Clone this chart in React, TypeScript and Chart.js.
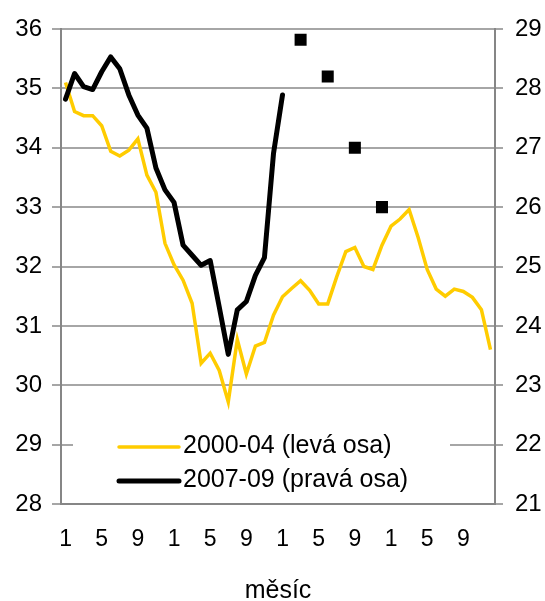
import React, { useEffect, useRef } from "react";
import { Chart, registerables } from "chart.js";

Chart.register(...registerables);

const months: string[] = [
  "1","2","3","4","5","6","7","8","9","10","11","12",
  "1","2","3","4","5","6","7","8","9","10","11","12",
  "1","2","3","4","5","6","7","8","9","10","11","12",
  "1","2","3","4","5","6","7","8","9","10","11","12",
];
const shownMonths: string[] = ["1", "5", "9"];

const series2000: number[] = [
  35.10, 34.61, 34.54, 34.54, 34.37, 33.94, 33.86, 33.96, 34.15, 33.54, 33.25, 32.39,
  32.03, 31.77, 31.38, 30.37, 30.54, 30.25, 29.72, 30.77, 30.19, 30.66, 30.72, 31.18,
  31.49, 31.63, 31.76, 31.60, 31.37, 31.37, 31.83, 32.25, 32.32, 32.00, 31.95, 32.36,
  32.68, 32.80, 32.96, 32.49, 31.95, 31.62, 31.50, 31.62, 31.58, 31.48, 31.27, 30.60,
];

const series2007: (number | null)[] = [
  27.82, 28.25, 28.03, 27.98, 28.28, 28.53, 28.33, 27.89, 27.55, 27.33, 26.66, 26.29,
  26.08, 25.36, 25.19, 25.02, 25.10, 24.32, 23.52, 24.27, 24.41, 24.85, 25.15, 26.90,
  27.89, null, null, null, null, null, null, null, null, null, null, null,
  null, null, null, null, null, null, null, null, null, null, null, null,
];

const forecast: (number | null)[] = [
  null, null, null, null, null, null, null, null, null, null, null, null,
  null, null, null, null, null, null, null, null, null, null, null, null,
  null, null, 28.82, null, null, 28.2, null, null, 27.0, null, null, 26.0,
  null, null, null, null, null, null, null, null, null, null, null, null,
];

const legendLabels: string[] = ["2000-04 (levá osa)", "2007-09 (pravá osa)"];
const axisTitle = "měsíc";

const YELLOW = "#FFCC00";
const BLACK = "#000000";
const GRID = "#a6a6a6";
const AXIS = "#868686";
const FONT = '"Liberation Sans", Arial, sans-serif';

const legendPlugin = {
  id: "insideLegend",
  afterDatasetsDraw(chart: any) {
    const ctx = chart.ctx as CanvasRenderingContext2D;
    const area = chart.chartArea;
    ctx.save();
    ctx.fillStyle = "#ffffff";
    ctx.fillRect(area.left + 12, area.bottom - 88, 377, 86);
    const rows = [
      { color: YELLOW, width: 3.5, y: area.bottom - 57, text: legendLabels[0] },
      { color: BLACK, width: 5, y: area.bottom - 23, text: legendLabels[1] },
    ];
    rows.forEach((r) => {
      ctx.strokeStyle = r.color;
      ctx.lineWidth = r.width;
      ctx.lineCap = "round";
      ctx.beginPath();
      ctx.moveTo(area.left + 58, r.y);
      ctx.lineTo(area.left + 118, r.y);
      ctx.stroke();
      ctx.fillStyle = "#000000";
      ctx.font = `25px ${FONT}`;
      ctx.textBaseline = "middle";
      ctx.textAlign = "left";
      ctx.fillText(r.text, area.left + 122, r.y - 1);
    });
    ctx.restore();
  },
};

export default function App() {
  const canvasRef = useRef<HTMLCanvasElement | null>(null);

  useEffect(() => {
    document.body.style.margin = "0";
    const canvas = canvasRef.current;
    if (!canvas) return;
    const chart = new Chart(canvas, {
      type: "line",
      data: {
        labels: months,
        datasets: [
          {
            label: legendLabels[0],
            data: series2000,
            yAxisID: "yL",
            borderColor: YELLOW,
            backgroundColor: YELLOW,
            borderWidth: 3.5,
            pointRadius: 0,
            tension: 0,
            order: 2,
          },
          {
            label: legendLabels[1],
            data: series2007,
            yAxisID: "yR",
            borderColor: BLACK,
            backgroundColor: BLACK,
            borderWidth: 5,
            pointRadius: 0,
            tension: 0,
            borderJoinStyle: "round",
            borderCapStyle: "round",
            order: 1,
          },
          {
            label: "forecast",
            data: forecast,
            yAxisID: "yR",
            showLine: false,
            pointStyle: "rect",
            pointRadius: 8.5,
            pointBorderWidth: 0,
            pointBackgroundColor: BLACK,
            pointBorderColor: BLACK,
            borderColor: BLACK,
            backgroundColor: BLACK,
            order: 0,
          },
        ],
      },
      options: {
        responsive: false,
        animation: false,
        devicePixelRatio: 1,
        layout: { padding: { top: 29, left: 0, right: 0, bottom: 0 } },
        plugins: {
          legend: { display: false },
          tooltip: { enabled: false },
          title: { display: false },
        },
        scales: {
          x: {
            type: "category",
            offset: true,
            grid: { display: false, drawTicks: false },
            border: { display: true, color: AXIS, width: 2 },
            ticks: {
              autoSkip: false,
              maxRotation: 0,
              minRotation: 0,
              padding: 22,
              color: "#000000",
              font: { family: FONT, size: 23 },
              callback: (_v: any, i: number) => (shownMonths.includes(months[i]) ? months[i] : ""),
            },
            title: {
              display: true,
              text: axisTitle,
              color: "#000000",
              font: { family: FONT, size: 25, lineHeight: 0.8 },
              padding: { top: 0, bottom: 0 },
            },
            afterFit: (s: any) => {
              s.height = 97;
            },
          },
          yL: {
            type: "linear",
            position: "left",
            min: 28,
            max: 36,
            ticks: {
              stepSize: 1,
              padding: 10,
              color: "#000000",
              font: { family: FONT, size: 24 },
            },
            grid: { color: GRID, lineWidth: 2, tickLength: 9, tickColor: GRID },
            border: { display: true, color: AXIS, width: 2 },
            afterFit: (s: any) => {
              s.width = 61;
            },
          },
          yR: {
            type: "linear",
            position: "right",
            min: 21,
            max: 29,
            ticks: {
              stepSize: 1,
              padding: 12,
              color: "#000000",
              font: { family: FONT, size: 24 },
            },
            grid: { drawOnChartArea: false, tickLength: 8, color: GRID, lineWidth: 2 },
            border: { display: true, color: AXIS, width: 2 },
            afterFit: (s: any) => {
              s.width = 50;
            },
          },
        },
      },
      plugins: [legendPlugin],
    } as any);
    return () => chart.destroy();
  }, []);

  return (
    <div style={{ width: 545, height: 601 }}>
      <canvas ref={canvasRef} width={545} height={601} />
    </div>
  );
}
